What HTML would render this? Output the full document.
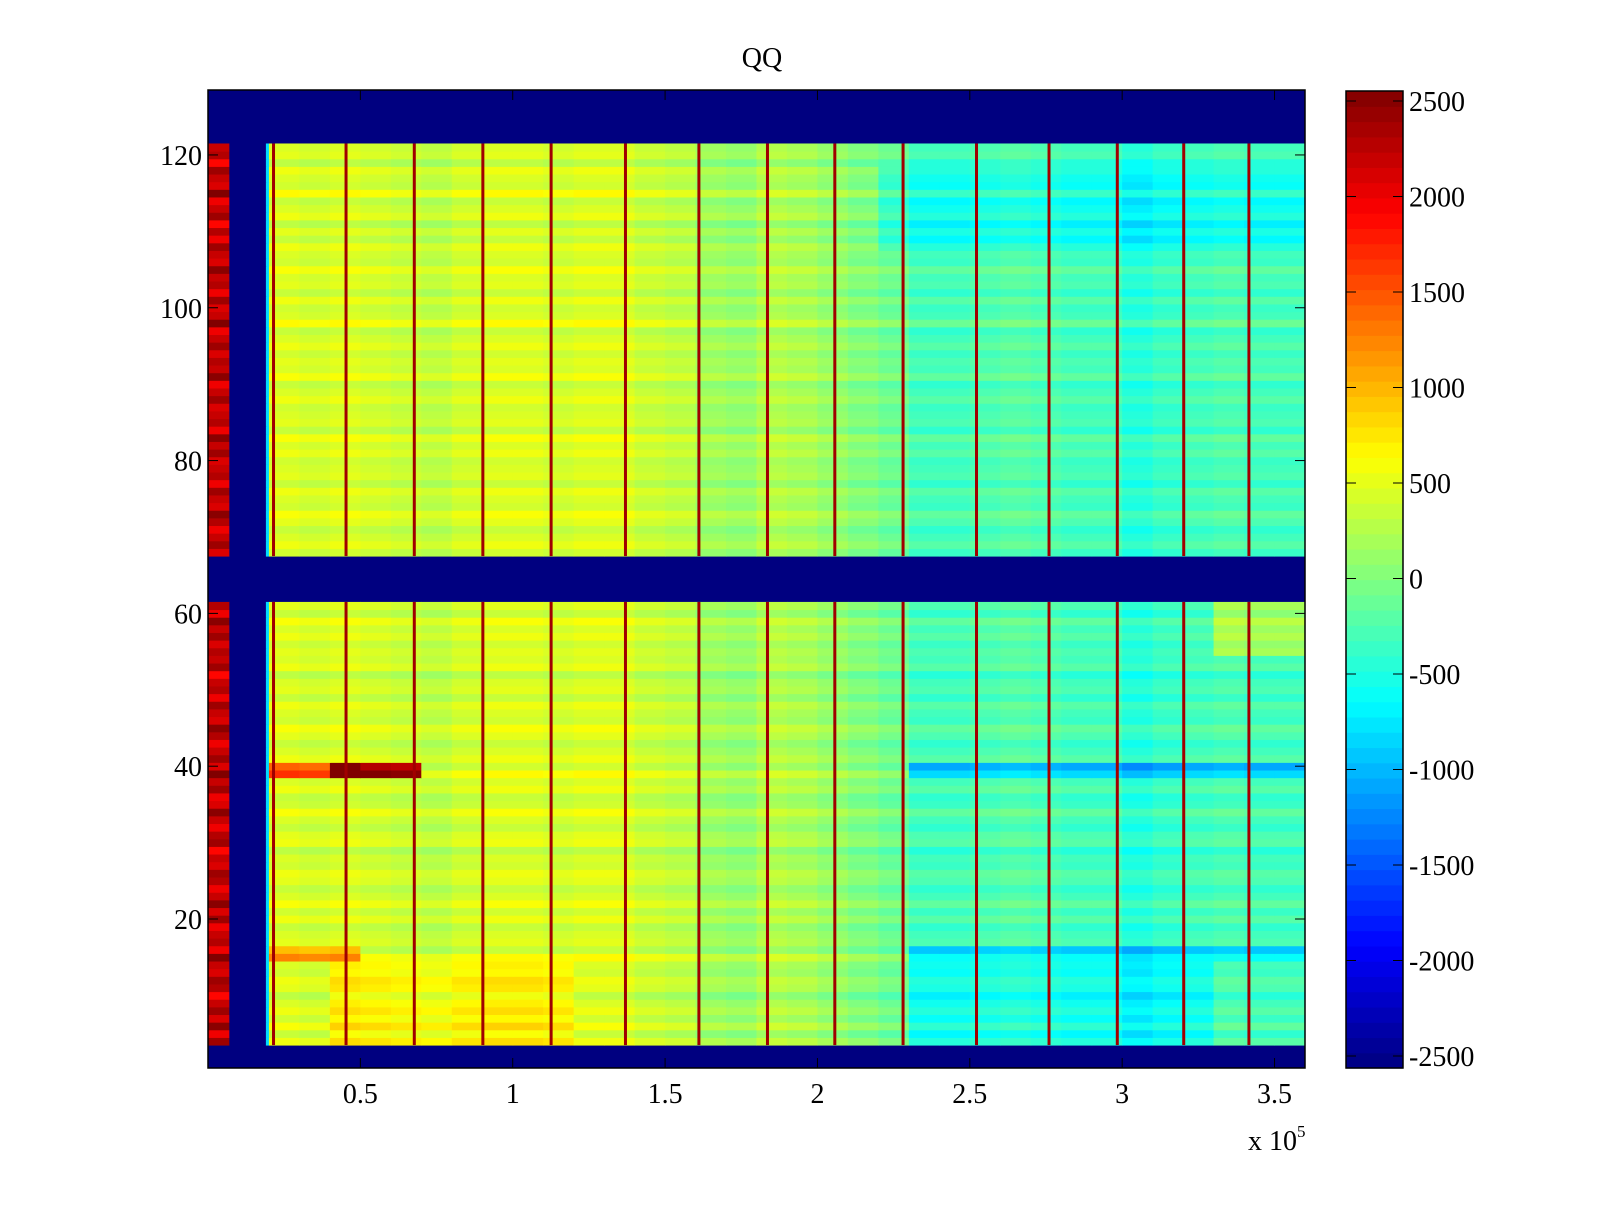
<!DOCTYPE html>
<html><head><meta charset="utf-8"><style>
body{margin:0;background:#fff}
svg text{font-family:"Liberation Serif",serif;font-size:28px;fill:#000}
</style></head><body>
<svg id="chart" width="1600" height="1200" viewBox="0 0 1600 1200" xmlns="http://www.w3.org/2000/svg">
<text x="762" y="67" text-anchor="middle">QQ</text>
<g id="cells"></g>
<g id="axes"></g>
<g id="cbar"></g>
</svg>
<script>
// ---- data ----
const segStarts = [0,0.07,0.19,0.2,0.3,0.4,0.5,0.6,0.7,0.8,0.9,1.0,1.1,1.2,1.3,1.4,1.5,1.6,1.7,1.8,1.9,2.0,2.1,2.2,2.3,2.4,2.5,2.6,2.7,2.8,2.9,3.0,3.1,3.2,3.3,3.4,3.5];
const segValues = [2150,-2500,-800,450,400,450,400,350,300,400,450,450,400,450,450,350,300,150,100,250,200,100,0,-100,-300,-300,-250,-200,-250,-300,-300,-450,-350,-300,-250,-300,-300];
const rowOffsets = [0,0,0,100,-100,150,-50,100,0,-150,50,100,-50,0,200,-100,50,0,-100,100,-50,150,0,-100,50,100,-50,0,-150,100,50,-100,0,150,-50,-100,100,0,200,-50,100,0,-100,50,150,-50,0,100,-100,50,0,-150,100,0,50,-50,100,0,150,-100,50,0,0,0,0,0,0,-50,100,0,-100,50,150,-50,0,100,-100,50,0,-50,100,0,150,-100,50,0,-50,100,0,-100,150,0,50,-50,100,0,-100,200,0,-50,100,-100,50,0,150,-50,0,100,-100,50,-150,100,0,-100,200,-50,0,100,-150,50,0,100,0,0,0,0,0,0,0];
const blueRows = [[0.5,3.5],[61.5,67.5],[121.5,128.5]];
const regions = [[2.2,3.6,108,118,-250],[2.3,3.3,4,14,-250],[0.4,1.2,4,14,250],[0.2,0.5,15,16,600],[2.3,3.6,15,16,-500],[0.2,0.45,39,40,1000],[0.45,0.65,39,40,1900],[2.3,3.6,39,40,-700],[3.3,3.6,55,61,450]];
const redLines = [0.215,0.453,0.677,0.902,1.126,1.370,1.611,1.836,2.057,2.281,2.522,2.760,2.984,3.202,3.416];
const xTicks = [0.5,1,1.5,2,2.5,3,3.5];
const xTickLabels = ["0.5","1","1.5","2","2.5","3","3.5"];
const yTicks = [20,40,60,80,100,120];
const cTicks = [2500,2000,1500,1000,500,0,-500,-1000,-1500,-2000,-2500];
// ---- scales ----
const L=208,R=1305,T=90,B=1068;
const X0=0,X1=3.6,Y0=0.5,Y1=128.5;
const sx=v=>L+(v-X0)/(X1-X0)*(R-L);
const sy=v=>B-(v-Y0)/(Y1-Y0)*(B-T);
const CT=91,CB=1068,CL=1346,CR=1403;
const cy=v=>1056-(v+2500)/5000*(1056-101);
function jet(v){let t=(v+2500)/5000;t=Math.max(0,Math.min(1,t));
 const f=x=>Math.max(0,Math.min(1,1.5-Math.abs(4*t-x)));
 return `rgb(${Math.round(255*f(3))},${Math.round(255*f(2))},${Math.round(255*f(1))})`;}
const NS="http://www.w3.org/2000/svg";
function mk(tag,attrs,parent){const e=document.createElementNS(NS,tag);for(const k in attrs)e.setAttribute(k,attrs[k]);parent.appendChild(e);return e;}
const cells=document.getElementById('cells');
mk('rect',{x:L,y:T,width:R-L,height:B-T,fill:jet(-2500)},cells);
function isBlue(r){return blueRows.some(b=>r>b[0]&&r<b[1]);}
for(let r=1;r<=128;r++){
 if(isBlue(r))continue;
 for(let s=0;s<segStarts.length;s++){
  const x0=segStarts[s],x1=s+1<segStarts.length?segStarts[s+1]:X1;
  let v=segValues[s];
  if(s>=3){v+=rowOffsets[r-1];
   regions.forEach(g=>{if(r>=g[2]&&r<=g[3]){const a=Math.max(x0,g[0]),b=Math.min(x1,g[1]);if(b>a&&(b-a)>=(x1-x0)*0.5)v+=g[4];}});}
  else if(s===0){v+=rowOffsets[r-1]*2;}
  const e=mk('rect',{x:sx(x0),y:sy(r+0.5),width:sx(x1)-sx(x0)+0.5,height:sy(r-0.5)-sy(r+0.5)+0.5,fill:jet(v)},cells);
  
  
 }
}
blueRows.slice(0,2).forEach((b,i)=>{
 const y0=blueRows[i][1],y1=blueRows[i+1][0];
 redLines.forEach(xv=>{
  const e=mk('rect',{x:sx(xv)-1.5,y:sy(y1),width:3,height:sy(y0)-sy(y1),fill:'#a00000'},cells);
  
  
 });
});
const ax=document.getElementById('axes');
mk('rect',{x:L,y:T,width:R-L,height:B-T,fill:'none',stroke:'#000','stroke-width':1.5},ax);
xTicks.forEach((t,i)=>{const x=sx(t);
 mk('line',{x1:x,x2:x,y1:B,y2:B-10,stroke:'#000'},ax);mk('line',{x1:x,x2:x,y1:T,y2:T+10,stroke:'#000'},ax);
 const e=mk('text',{x:x,y:B+35,'text-anchor':'middle'},ax);e.textContent=xTickLabels[i];
 
 });
yTicks.forEach(t=>{const y=sy(t);
 mk('line',{x1:L,x2:L+10,y1:y,y2:y,stroke:'#000'},ax);mk('line',{x1:R,x2:R-10,y1:y,y2:y,stroke:'#000'},ax);
 const e=mk('text',{x:L-6,y:y+10,'text-anchor':'end'},ax);e.textContent=t;
 
 });
const ex=mk('text',{x:1248,y:1150},ax);ex.innerHTML='x 10<tspan dy="-13" font-size="17">5</tspan>';


const cb=document.getElementById('cbar');
const N=64;
for(let i=0;i<N;i++){const v=-2500+(i+0.5)*5000/N;const y0=CB-(i+1)*(CB-CT)/N;
 mk('rect',{x:CL,y:y0,width:CR-CL,height:(CB-CT)/N+0.6,fill:jet(v)},cb);}
mk('rect',{x:CL,y:CT,width:CR-CL,height:CB-CT,fill:'none',stroke:'#000','stroke-width':1.5},cb);
cTicks.forEach(t=>{const y=cy(t);
 mk('line',{x1:CL,x2:CL+10,y1:y,y2:y,stroke:'#000'},cb);mk('line',{x1:CR,x2:CR-10,y1:y,y2:y,stroke:'#000'},cb);
 const e=mk('text',{x:CR+6,y:y+10},cb);e.textContent=t;
 
 });
</script>
</body></html>
